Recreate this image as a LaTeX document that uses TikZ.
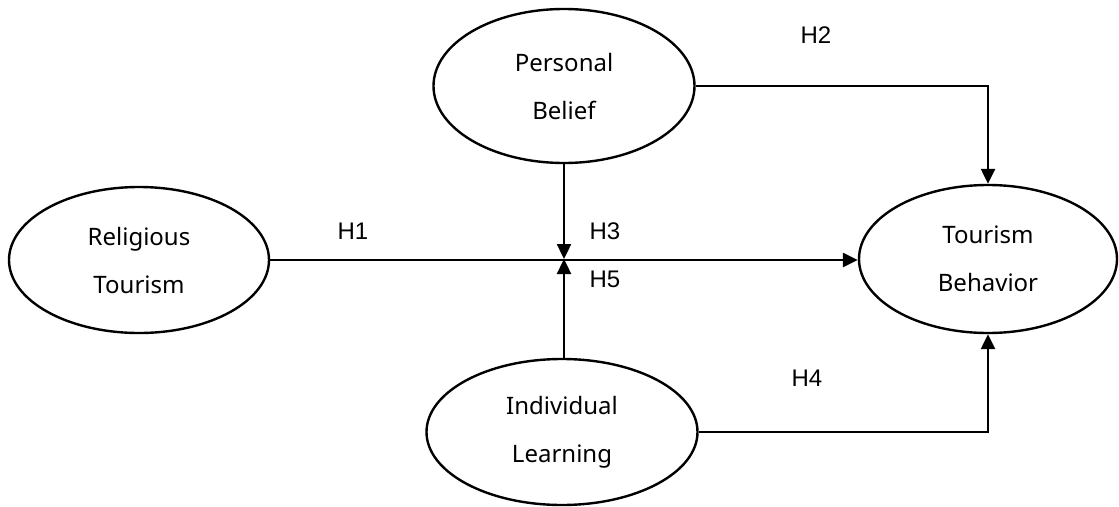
\documentclass[tikz,border=0pt]{standalone}
\usepackage{fontspec}
\setmainfont{Liberation Sans}
\newfontfamily\constructfont{Noto Sans}
\usetikzlibrary{shapes.geometric,arrows.meta}
\tikzset{
  construct/.style={draw, line width=2.4pt, ellipse, inner sep=0pt, align=center,
    font=\constructfont\fontsize{24}{48}\selectfont},
  link/.style={line width=2.4pt},
  linkarrow/.style={link, -{Triangle[length=15pt,width=14pt]}},
  hyp/.style={font=\fontsize{24}{26}\selectfont, inner sep=0pt}
}
\begin{document}
\begin{tikzpicture}[x=1pt,y=-1pt]
\useasboundingbox (0,0) rectangle (1119,506);
\fill[white] (0,0) rectangle (1119,506);
\node[construct, minimum width=260pt, minimum height=146pt] (rt) at (139,260) {Religious\\Tourism};
\node[construct, minimum width=261pt, minimum height=154pt] (pb) at (564,86) {Personal\\Belief};
\node[construct, minimum width=258pt, minimum height=148pt] (tb) at (988,259) {Tourism\\Behavior};
\node[construct, minimum width=271pt, minimum height=146pt] (il) at (562,432) {Individual\\Learning};
\coordinate (m) at (564,259);
\draw[linkarrow] (rt.east) -- (rt.east -| tb.west);
\draw[linkarrow] (pb.south -| m) -- (m);
\draw[linkarrow] (il.north -| m) -- (m);
\draw[linkarrow] (pb.east) -| (tb.north);
\draw[linkarrow] (il.east) -| (tb.south);
\node[hyp] (h1) at (353,231) {H1};
\node[hyp] (h2) at (816,35) {H2};
\node[hyp] (h3) at (605,231) {H3};
\node[hyp] (h5) at (605,279) {H5};
\node[hyp] (h4) at (807,378) {H4};
\end{tikzpicture}
\end{document}
